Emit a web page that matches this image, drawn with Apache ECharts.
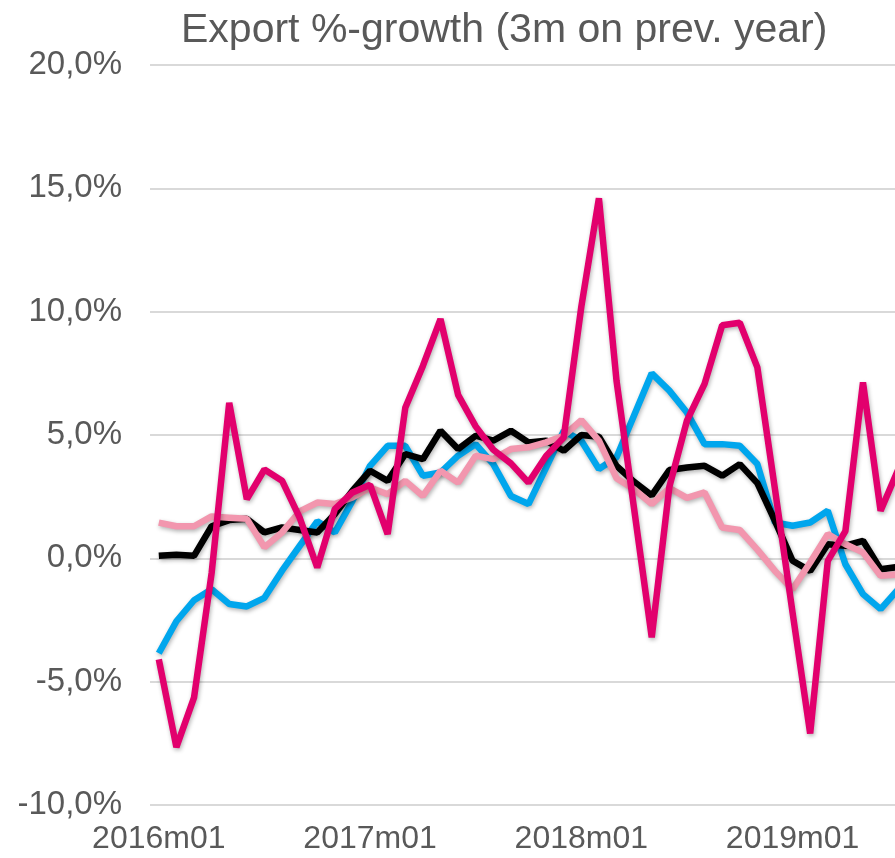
<!DOCTYPE html>
<html lang="en">
<head>
  <meta charset="UTF-8" />
  <title>Export %-growth (3m on prev. year)</title>
  <script src="https://cdn.jsdelivr.net/npm/echarts@6.0.0/dist/echarts.min.js"></script>
  <style>
    * { margin: 0; padding: 0; box-sizing: border-box; }
    body { background: #fff; }
    #chart { width: 895px; height: 858px; }
  </style>
</head>
<body>
  <div id="chart"></div>
  <script>
    const months = [
      '2016m01','2016m02','2016m03','2016m04','2016m05','2016m06','2016m07','2016m08','2016m09','2016m10','2016m11','2016m12',
      '2017m01','2017m02','2017m03','2017m04','2017m05','2017m06','2017m07','2017m08','2017m09','2017m10','2017m11','2017m12',
      '2018m01','2018m02','2018m03','2018m04','2018m05','2018m06','2018m07','2018m08','2018m09','2018m10','2018m11','2018m12',
      '2019m01','2019m02','2019m03','2019m04','2019m05','2019m06','2019m07'
    ];

    // values in %
    const blueSeries = [
      -3.85, -2.55, -1.7, -1.25, -1.85, -1.95, -1.6, -0.5, 0.5, 1.5, 1.05, 2.33,
      3.75, 4.56, 4.56, 3.35, 3.48, 4.16, 4.63, 3.82, 2.53, 2.2, 3.68, 5.17,
      4.77, 3.62, 4.1, 5.8, 7.5, 6.8, 5.91, 4.63, 4.63, 4.56, 3.82, 1.45,
      1.32, 1.45, 1.93, -0.24, -1.45, -2.06, -1.25
    ];
    const blackSeries = [
      0.1, 0.15, 0.1, 1.3, 1.55, 1.6, 1.05, 1.25, 1.15, 1.05, 1.8, 2.74,
      3.55, 3.14, 4.23, 4.02, 5.17, 4.43, 4.97, 4.77, 5.17, 4.7, 4.77, 4.36,
      5.0, 4.93, 3.75, 3.1, 2.55, 3.58, 3.68, 3.75, 3.35, 3.82, 3.05, 1.52,
      -0.1, -0.51, 0.57, 0.51, 0.71, -0.44, -0.35
    ];
    const pinkSeries = [
      1.45, 1.3, 1.3, 1.7, 1.65, 1.6, 0.45, 1.05, 1.9, 2.26, 2.2, 2.47,
      2.87, 2.6, 3.14, 2.53, 3.55, 3.07, 4.16, 4.02, 4.43, 4.5, 4.7, 4.97,
      5.6, 4.77, 3.25, 2.8, 2.2, 2.85, 2.45, 2.67, 1.25, 1.15, 0.35, -0.51,
      -1.25, -0.17, 0.98, 0.57, 0.24, -0.71, -0.65
    ];
    const magentaSeries = [
      -4.1, -7.65, -5.65, -0.6, 6.3, 2.4, 3.6, 3.15, 1.65, -0.37, 2.0, 2.67,
      2.98, 0.98, 6.1, 7.8, 9.7, 6.63, 5.35, 4.4, 3.85, 3.07, 4.15, 4.9,
      10.2, 14.6, 7.2, 2.0, -3.2, 2.9, 5.58, 7.07, 9.45, 9.55, 7.74, 2.8,
      -2.2, -7.1, -0.1, 1.1, 7.13, 1.93, 3.6
    ];

    const yTicks = { min: -10, max: 20, step: 5 };

    const chart = echarts.init(document.getElementById('chart'));

    const lineSeries = (data, color) => ({
      type: 'line',
      data,
      symbol: 'none',
      lineStyle: {
        width: 6.5, color,
        shadowColor: 'rgba(0,0,0,0.3)', shadowBlur: 4, shadowOffsetX: 1, shadowOffsetY: 2
      },
      itemStyle: { color },
      animation: false
    });

    chart.setOption({
      animation: false,
      title: {
        text: 'Export %-growth (3m on prev. year)',
        left: 176, top: 5,
        textStyle: { fontFamily: 'Liberation Sans', fontSize: 41, fontWeight: 'normal', color: '#595959' }
      },
      // plot area runs a little past the right edge of the picture
      grid: { left: 150, width: 757, top: 65, height: 740, outerBoundsMode: 'none', containLabel: false },
      xAxis: {
        type: 'category',
        data: months,
        boundaryGap: true,
        axisLine: { show: false },
        axisTick: { show: false },
        axisLabel: {
          interval: 11, margin: 18,
          fontFamily: 'Liberation Sans', fontSize: 32, color: '#595959'
        }
      },
      yAxis: {
        type: 'value',
        min: yTicks.min, max: yTicks.max, interval: yTicks.step,
        axisLine: { show: false },
        axisTick: { show: false },
        splitLine: { lineStyle: { color: '#d9d9d9', width: 2 } },
        axisLabel: {
          margin: 28, verticalAlign: 'middle', lineHeight: 40, padding: [6, 0, 0, 0],
          fontFamily: 'Liberation Sans', fontSize: 33, color: '#595959',
          formatter: v => v.toFixed(1).replace('.', ',') + '%'
        }
      },
      series: [
        lineSeries(blueSeries, '#00a6ed'),
        lineSeries(blackSeries, '#000000'),
        lineSeries(pinkSeries, '#f296ae'),
        lineSeries(magentaSeries, '#e2006d')
      ]
    });
  </script>
</body>
</html>
